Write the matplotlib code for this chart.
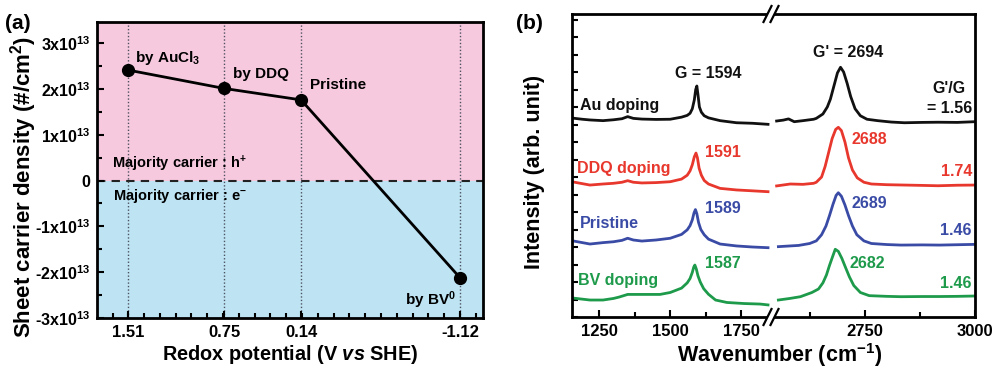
import numpy as np
import matplotlib
matplotlib.use('Agg')
import matplotlib.pyplot as plt
from matplotlib.ticker import FixedLocator, FixedFormatter, MultipleLocator, NullFormatter
from matplotlib.lines import Line2D
from matplotlib.patches import Polygon

plt.rcParams.update({
    'font.family': ['Liberation Sans', 'DejaVu Sans'],
    'font.weight': 'bold',
    'axes.labelweight': 'bold',
    'mathtext.fontset': 'custom',
    'mathtext.rm': 'Liberation Sans:bold',
    'mathtext.bf': 'Liberation Sans:bold',
    'mathtext.it': 'Liberation Sans:italic:bold',
    'mathtext.sf': 'Liberation Sans:bold',
    'mathtext.default': 'bf',
})

# ---------------- data: panel (a) ----------------
potential = [1.51, 0.75, 0.14, -1.12]
potential_labels = ['1.51', '0.75', '0.14', '-1.12']
carrier_density = [2.41e13, 2.01e13, 1.76e13, -2.12e13]
dopant_labels = ['by AuCl$_3$', 'by DDQ', 'Pristine', 'by BV$^0$']
density_ticks = [-3e13, -2e13, -1e13, 0, 1e13, 2e13, 3e13]
density_tick_labels = ['-3x10$^{13}$', '-2x10$^{13}$', '-1x10$^{13}$', '0',
                       '1x10$^{13}$', '2x10$^{13}$', '3x10$^{13}$']

# ---------------- data: panel (b) ----------------
names = ['Au doping', 'DDQ doping', 'Pristine', 'BV doping']
g_peak_labels = ['G = 1594', '1591', '1589', '1587']
g2_peak_labels = ["G' = 2694", '2688', '2689', '2682']
ratio_labels = ['= 1.56', '1.74', '1.46', '1.46']

au_g_w = [1153, 1190, 1217, 1263, 1300, 1330, 1350, 1370, 1400, 1450, 1500, 1540, 1560, 1570, 1578, 1585, 1590, 1594, 1598, 1603, 1610, 1620, 1635, 1676, 1734, 1790, 1845]
au_g_i = [11.37, 11.30, 11.26, 11.22, 11.27, 11.33, 11.45, 11.35, 11.31, 11.29, 11.30, 11.42, 11.52, 11.64, 11.90, 12.40, 13.00, 13.20, 12.70, 12.00, 11.70, 11.50, 11.38, 11.22, 11.10, 11.07, 11.01]
au_2d_w = [2550, 2565, 2577, 2590, 2610, 2634, 2640, 2655, 2665, 2672, 2680, 2688, 2695, 2702, 2710, 2718, 2728, 2740, 2755, 2779, 2810, 2840, 2880, 2916, 2960, 3000]
au_2d_i = [11.20, 11.25, 11.32, 11.16, 11.22, 11.30, 11.35, 11.60, 12.00, 12.45, 13.20, 13.95, 14.27, 14.00, 13.35, 12.60, 11.90, 11.50, 11.30, 11.22, 11.14, 11.10, 11.12, 11.13, 11.12, 11.16]

ddq_g_w = [1153, 1190, 1217, 1263, 1300, 1330, 1350, 1370, 1400, 1450, 1500, 1540, 1560, 1570, 1578, 1585, 1591, 1596, 1602, 1610, 1620, 1635, 1676, 1734, 1790, 1845]
ddq_g_i = [7.73, 7.62, 7.54, 7.60, 7.64, 7.70, 7.79, 7.70, 7.66, 7.68, 7.73, 7.88, 8.10, 8.35, 8.70, 9.15, 9.37, 9.10, 8.50, 8.10, 7.80, 7.60, 7.35, 7.26, 7.21, 7.16]
ddq_2d_w = [2550, 2581, 2610, 2634, 2640, 2652, 2660, 2668, 2676, 2684, 2690, 2697, 2705, 2713, 2722, 2733, 2748, 2765, 2800, 2840, 2880, 2916, 2960, 3000]
ddq_2d_i = [7.49, 7.60, 7.58, 7.64, 7.70, 8.00, 8.60, 9.40, 10.20, 10.72, 10.84, 10.65, 10.00, 9.10, 8.40, 7.95, 7.70, 7.60, 7.56, 7.54, 7.52, 7.50, 7.53, 7.54]

pr_g_w = [1153, 1190, 1217, 1263, 1300, 1330, 1350, 1370, 1400, 1450, 1500, 1540, 1560, 1570, 1578, 1584, 1589, 1594, 1600, 1608, 1620, 1635, 1676, 1734, 1790, 1845]
pr_g_i = [4.36, 4.25, 4.17, 4.25, 4.30, 4.38, 4.50, 4.40, 4.34, 4.40, 4.50, 4.72, 4.98, 5.22, 5.55, 5.95, 6.14, 5.90, 5.40, 5.00, 4.70, 4.45, 4.17, 4.06, 4.00, 3.96]
pr_2d_w = [2554, 2580, 2600, 2625, 2640, 2652, 2662, 2670, 2678, 2685, 2690, 2697, 2705, 2713, 2722, 2732, 2748, 2765, 2800, 2832, 2880, 2920, 2960, 3000]
pr_2d_i = [4.02, 4.06, 4.09, 4.20, 4.35, 4.70, 5.20, 5.80, 6.45, 6.95, 7.10, 6.90, 6.40, 5.80, 5.20, 4.70, 4.35, 4.20, 4.14, 4.11, 4.12, 4.11, 4.13, 4.15]

bv_g_w = [1153, 1190, 1217, 1263, 1300, 1320, 1350, 1400, 1464, 1500, 1540, 1560, 1570, 1578, 1583, 1587, 1592, 1598, 1606, 1618, 1635, 1660, 1700, 1760, 1817, 1845]
bv_g_i = [1.09, 1.02, 0.97, 0.97, 1.06, 1.14, 1.29, 1.29, 1.29, 1.40, 1.65, 1.95, 2.20, 2.55, 2.85, 2.97, 2.75, 2.35, 2.00, 1.62, 1.30, 0.97, 0.83, 0.77, 0.74, 0.69]
bv_2d_w = [2554, 2580, 2604, 2630, 2645, 2655, 2663, 2670, 2677, 2683, 2690, 2698, 2706, 2715, 2725, 2740, 2760, 2800, 2832, 2880, 2920, 2960, 3000]
bv_2d_i = [0.97, 1.06, 1.16, 1.40, 1.60, 1.95, 2.40, 2.95, 3.45, 3.87, 3.75, 3.35, 2.85, 2.30, 1.80, 1.40, 1.22, 1.18, 1.16, 1.17, 1.17, 1.18, 1.20]

g_band = [(au_g_w, au_g_i), (ddq_g_w, ddq_g_i), (pr_g_w, pr_g_i), (bv_g_w, bv_g_i)]
g2_band = [(au_2d_w, au_2d_i), (ddq_2d_w, ddq_2d_i), (pr_2d_w, pr_2d_i), (bv_2d_w, bv_2d_i)]
colors = ['#111111', '#E8372C', '#3A4BA6', '#1E9A4B']

# ---------------- figure ----------------
W, H = 995, 370
fig = plt.figure(figsize=(W / 100, H / 100), dpi=100)


def fx(px):
    return px / W


def fy(py):
    return 1 - py / H


PINK = '#F7C9DF'
BLUE = '#BEE4F3'

# ---------- panel (a) ----------
axa = fig.add_axes([fx(97.3), fy(318), (483 - 97.3) / W, (318 - 22) / H])
axa.set_xlim(1.756, -1.303)
axa.set_ylim(-3e13, 3.46e13)
axa.axhspan(0, 3.46e13, color=PINK, zorder=0, lw=0)
axa.axhspan(-3e13, 0, color=BLUE, zorder=0, lw=0)
axa.axhline(0, color='#222222', lw=1.5, ls=(0, (4, 3)), zorder=1)
for p in potential:
    axa.axvline(p, color='#4d5260', lw=1.0, ls=(0, (1, 1.5)), zorder=1)
axa.plot(potential, carrier_density, color='black', lw=2.0, marker='o',
         ms=8.5, zorder=3)

label_pos = [(1.457, 2.59e13), (0.680, 2.24e13), (0.069, 2.00e13), (-0.684, -2.72e13)]
for (x, y), t in zip(label_pos, dopant_labels):
    axa.text(x, y, t, fontsize=11, va='baseline', ha='left', zorder=4)
axa.text(1.639, 0.27e13, 'Majority carrier : h$^{+}$', fontsize=10.5, va='baseline')
axa.text(1.631, -0.43e13, 'Majority carrier : e$^{-}$', fontsize=10.5, va='baseline')

axa.xaxis.set_major_locator(FixedLocator(potential))
axa.xaxis.set_major_formatter(FixedFormatter(potential_labels))
axa.xaxis.set_minor_locator(FixedLocator(np.linspace(1.51 + 0.1252, -1.12 - 0.1252, 24)))
axa.yaxis.set_major_locator(FixedLocator(density_ticks))
axa.yaxis.set_major_formatter(FixedFormatter(density_tick_labels))
axa.yaxis.set_minor_locator(FixedLocator(np.arange(-2.5e13, 3.3e13, 1e13)))
axa.tick_params(which='both', direction='in', top=False, right=False, width=1.5)
axa.tick_params(axis='x', which='major', length=5, labelsize=12, pad=5)
axa.tick_params(axis='y', which='major', length=5, labelsize=11.5, pad=5)
axa.tick_params(which='minor', length=3.5)
for s in axa.spines.values():
    s.set_linewidth(2)
axa.set_xlabel('Redox potential (V $\\it{vs}$ SHE)', fontsize=14.3, labelpad=2)
axa.set_ylabel('Sheet carrier density (#/cm$^2$)', fontsize=16, va='center')
axa.yaxis.set_label_coords((24 - 97.3) / 385.7, (318 - 187) / 296)

# ---------- panel (b) ----------
b_bottom, b_top = 317, 14
axl = fig.add_axes([fx(571.7), fy(b_bottom), (770 - 571.7) / W, (b_bottom - b_top) / H])
axr = fig.add_axes([fx(770), fy(b_bottom), (975 - 770) / W, (b_bottom - b_top) / H])
ymax = (b_bottom - b_top) / 17.5
for ax in (axl, axr):
    ax.set_ylim(0, ymax)
    for s in ax.spines.values():
        s.set_linewidth(2)
    ax.tick_params(which='both', direction='in', top=False, right=False, width=1.5)
    ax.tick_params(which='major', length=5, labelsize=12, pad=5)
    ax.tick_params(which='minor', length=3.5)
axl.set_xlim(1152.6, 1852)
axr.set_xlim(2535, 3000)
axl.spines['right'].set_visible(False)
axr.spines['left'].set_visible(False)
axr.tick_params(axis='y', left=False, labelleft=False)
axl.yaxis.set_major_locator(MultipleLocator(1))
axl.yaxis.set_major_formatter(NullFormatter())
axl.tick_params(axis='y', length=4.5)
axl.xaxis.set_major_locator(FixedLocator([1250, 1500, 1750]))
axl.xaxis.set_minor_locator(FixedLocator([1375, 1625]))
axr.xaxis.set_major_locator(FixedLocator([2750, 3000]))
axr.xaxis.set_minor_locator(FixedLocator([2625, 2875]))

for (w, i), c in zip(g_band, colors):
    axl.plot(w, i, color=c, lw=2.0, solid_joinstyle='round')
for (w, i), c in zip(g2_band, colors):
    axr.plot(w, i, color=c, lw=2.0, solid_joinstyle='round')

name_pos = [(1182, 11.83), (1171.6, 8.23), (1182, 5.09), (1175, 1.83)]
g_pos = [(1517.5, 13.66), (1623, 9.14), (1623, 5.94), (1623, 2.80)]
g2_pos = [(2632.5, 14.86), (2721, 9.89), (2721, 6.23), (2716, 2.80)]
ratio_pos = [(2993, 11.66), (2993, 8.06), (2993, 4.69), (2993, 1.66)]
for k in range(4):
    c = colors[k]
    axl.text(*name_pos[k], names[k], color=c, fontsize=11.5, va='baseline')
    axl.text(*g_pos[k], g_peak_labels[k], color=c, fontsize=11.5, va='baseline')
    axr.text(*g2_pos[k], g2_peak_labels[k], color=c, fontsize=11.5, va='baseline')
    axr.text(*ratio_pos[k], ratio_labels[k], color=c, fontsize=11.5,
             va='baseline', ha='right')
axr.text(2941, 12.8, "G'/G", color=colors[0], fontsize=11.5, va='baseline', ha='center')

axl.set_ylabel('Intensity (arb. unit)', fontsize=15.5, va='center')
axl.yaxis.set_label_coords((535 - 571.7) / 198.3, (317 - 172) / 303)
fig.text(fx(780), fy(362), 'Wavenumber (cm$^{-1}$)', fontsize=15.5, ha='center',
         va='baseline')

# axis break marks
for yc in (b_top, b_bottom):
    xs = [763.5, 771.5, 778.5, 770.5]
    ys = [yc + 8, yc - 8, yc - 8, yc + 8]
    fig.patches.append(Polygon([(fx(a), fy(b)) for a, b in zip(xs, ys)], closed=True,
                               transform=fig.transFigure, facecolor='white',
                               edgecolor='none', zorder=10))
    for x0 in (763.5, 770.5):
        fig.lines.append(Line2D([fx(x0), fx(x0 + 8)], [fy(yc + 8), fy(yc - 8)],
                                transform=fig.transFigure, color='black', lw=1.6,
                                zorder=11))

fig.text(fx(5), fy(29), '(a)', fontsize=15, va='baseline')
fig.text(fx(516), fy(29), '(b)', fontsize=15, va='baseline')

fig.savefig('out.png', dpi=100)
